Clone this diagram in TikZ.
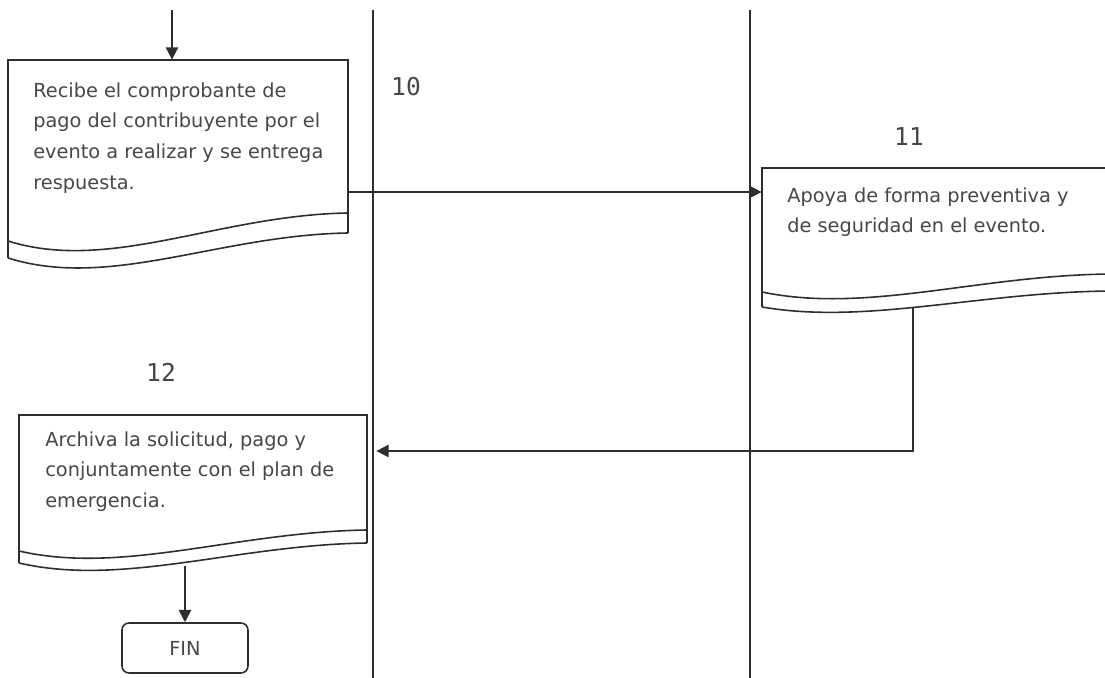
\documentclass[tikz,border=0pt]{standalone}
\usepackage{fontspec}
\setmainfont{DejaVu Sans}
\newfontfamily\numfont{DejaVu Sans Mono}
\usetikzlibrary{arrows.meta,fit,calc}
\definecolor{ink}{HTML}{2E2E2E}
\definecolor{txtc}{HTML}{474747}
\begin{document}
\begin{tikzpicture}[x=0.02cm,y=-0.02cm,
  ln/.style={draw=ink, line width=0.9pt},
  arr/.style={ln, -{Triangle[length=7pt,width=7pt]}},
  txt/.style={font=\fontsize{11}{17.5}\selectfont, text=txtc, align=left, inner sep=0, anchor=north west},
  num/.style={font=\numfont\fontsize{14}{16}\selectfont, text=txtc, inner sep=0},
  area/.style={inner sep=0, draw=none},
  finbox/.style={ln, rounded corners=4pt, inner sep=0, minimum width=2.52cm, minimum height=1cm, font=\fontsize{11}{13}\selectfont, text=txtc}]
\clip (0,0) rectangle (1105,678);
\fill[white] (0,0) rectangle (1105,678);

% swimlane separators
\coordinate (l1a) at (373,10); \coordinate (l1b) at (373,678);
\coordinate (l2a) at (750,10); \coordinate (l2b) at (750,678);
\draw[ln] (l1a) -- (l1b);
\draw[ln] (l2a) -- (l2b);

% box 10
\node[area, fit={(8,60) (348,258)}] (b10) {};
\draw[ln] (8,258) -- (8,60) -- (348,60) -- (348,233);
\draw[ln] (8,258) .. controls (110,290) and (219,235) .. (348,233);
\draw[ln] (8,241) .. controls (110,273) and (219,215) .. (348,213);
\node[txt] (t10) at (33,82) {Recibe el comprobante de\\pago del contribuyente por el\\evento a realizar y se entrega\\respuesta.};
\node[num] (n10) at (406,87) {10};

% box 11
\node[area, fit={(762,168) (1112,307)}] (b11) {};
\draw[ln] (762,307) -- (762,168) -- (1112,168) -- (1112,291);
\draw[ln] (762,307) .. controls (867,325) and (979,292) .. (1112,291);
\draw[ln] (762,292) .. controls (867,314) and (979,275) .. (1112,274);
\node[txt] (t11) at (787,187) {Apoya de forma preventiva y\\de seguridad en el evento.};
\node[num] (n11) at (909,137) {11};

% box 12
\node[area, fit={(19,415) (367,563)}] (b12) {};
\draw[ln] (19,563) -- (19,415) -- (367,415) -- (367,543);
\draw[ln] (19,563) .. controls (123,587) and (235,545) .. (367,543);
\draw[ln] (19,551) .. controls (123,575) and (235,532) .. (367,530);
\node[txt] (t12) at (45,431) {Archiva la solicitud, pago y\\conjuntamente con el plan de\\emergencia.};
\node[num] (n12) at (161,372) {12};

% end
\node[finbox] (fin) at (185,648) {FIN};

% connectors
\coordinate (in) at (172,10);
\draw[arr] (in) -- (in |- b10.north);
\draw[arr] (b10.east |- 0,192) -- (b11.west |- 0,192);
\coordinate (c11) at (913,307);
\path ($(b12.east)+(9,0)$) coordinate (e12);
\draw[arr] (c11) |- (e12 |- 0,451);
\draw[arr] (fin.north |- 0,566) -- (fin.north);
\end{tikzpicture}
\end{document}
